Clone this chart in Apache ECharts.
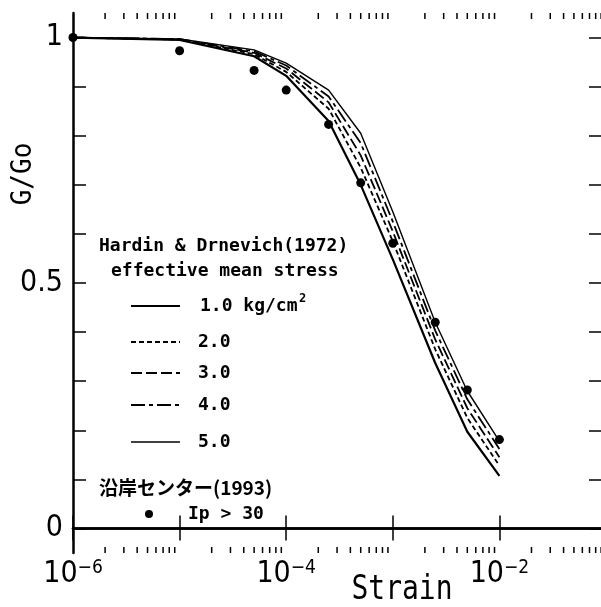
<!DOCTYPE html>
<html><head><meta charset="utf-8">
<script src="https://cdn.jsdelivr.net/npm/echarts@6/dist/echarts.min.js"></script>
<style>html,body{margin:0;padding:0;background:#fff}#c{width:601px;height:607px}</style>
</head><body><div id="c"></div>
<script>
// Hardin & Drnevich (1972) curves: strain vs G/Go for each effective mean stress
const strain = [1e-6, 1e-5, 5e-5, 1e-4, 2.5e-4, 5e-4, 1e-3, 2.5e-3, 5e-3, 1e-2];
const g10 = [1.0, 0.995, 0.962, 0.922, 0.830, 0.700, 0.548, 0.337, 0.197, 0.107];
const g20 = [1.0, 0.996, 0.966, 0.930, 0.855, 0.735, 0.585, 0.365, 0.225, 0.128];
const g30 = [1.0, 0.996, 0.969, 0.937, 0.868, 0.760, 0.605, 0.385, 0.245, 0.145];
const g40 = [1.0, 0.997, 0.972, 0.943, 0.880, 0.785, 0.625, 0.403, 0.263, 0.162];
const g50 = [1.0, 0.997, 0.975, 0.948, 0.893, 0.805, 0.645, 0.420, 0.280, 0.178];
// 沿岸センター(1993) Ip > 30 observations
const obsStrain = [1e-6, 1e-5, 5e-5, 1e-4, 2.5e-4, 5e-4, 1e-3, 2.5e-3, 5e-3, 1e-2];
const obsG = [1.0, 0.973, 0.933, 0.893, 0.823, 0.704, 0.581, 0.420, 0.282, 0.181];
// axis ticks / labels
const yTicks = [0, 0.1, 0.2, 0.3, 0.4, 0.5, 0.6, 0.7, 0.8, 0.9, 1.0];
const yLabelValues = [0, 0.5, 1];
const yLabelText = {0: '0', 0.5: '0.5', 1: '1'};
const xShownExponents = [-6, -4, -2];
const minorDecades = [1e-6, 1e-5, 1e-4, 1e-3, 1e-2];
const minorMults = [2, 3, 4, 5, 6, 7, 8, 9];
const legendLabels = ['1.0 kg/cm', '2.0', '3.0', '4.0', '5.0'];

const X_MIN = 1e-6, X_MAX = 1e-1, Y_MIN = -0.05, Y_MAX = 1.05;
const minorTicks = [];
minorDecades.forEach(d => minorMults.forEach(m => minorTicks.push([d * m, 0])));

const pair = (xs, ys) => xs.map((x, i) => [x, ys[i]]);
const dashes = [null, [5, 3], [11, 4], [14, 4, 4, 4], null];
const widths = [2.2, 1.8, 1.8, 1.8, 1.4];
const curves = [g10, g20, g30, g40, g50];

const chart = echarts.init(document.getElementById('c'), null, {renderer: 'canvas'});
const axisCommon = {
  type: 'log', logBase: 10, min: X_MIN, max: X_MAX, splitNumber: 5,
  axisLine: {lineStyle: {color: '#000', width: 2.5}},
  splitLine: {show: false}
};
const condensed = '"DejaVu Sans Condensed","DejaVu Sans",sans-serif';
const mono = '"DejaVu Sans Mono","Liberation Mono",monospace';

const series = curves.map((c, i) => ({
  type: 'line', xAxisIndex: 0, yAxisIndex: 0, data: pair(strain, c),
  symbol: 'none', silent: true, clip: false,
  lineStyle: {color: '#000', width: widths[i], type: dashes[i] || 'solid'}
}));
series.push({
  type: 'scatter', xAxisIndex: 0, yAxisIndex: 0, data: pair(obsStrain, obsG),
  symbol: 'circle', symbolSize: 9, itemStyle: {color: '#000', opacity: 1}, clip: false, z: 5
});
series.push({
  type: 'custom', xAxisIndex: 0, yAxisIndex: 0, data: minorTicks, clip: false, silent: true,
  renderItem: (params, api) => {
    const v = api.value(0);
    const t = api.coord([v, Y_MAX]);
    const b = api.coord([v, Y_MIN]);
    return {type: 'group', children: [
      {type: 'line', shape: {x1: t[0], y1: t[1], x2: t[0], y2: t[1] + 6}, style: {stroke: '#000', lineWidth: 1.5}},
      {type: 'line', shape: {x1: b[0], y1: b[1], x2: b[0], y2: b[1] - 6}, style: {stroke: '#000', lineWidth: 1.5}}
    ]};
  }
});

// legend-like annotation (graphic)
const legendY = [306, 342, 373, 405, 442];
const graphic = [
  {type: 'text', style: {x: 99, y: 246, text: 'Hardin & Drnevich(1972)', font: 'bold 18px ' + mono, fill: '#000', verticalAlign: 'middle'}},
  {type: 'text', style: {x: 111, y: 271, text: 'effective mean stress', font: 'bold 18px ' + mono, fill: '#000', verticalAlign: 'middle'}},
  {type: 'text', style: {x: 299, y: 299, text: '2', font: 'bold 12px ' + mono, fill: '#000', verticalAlign: 'middle'}},
  {type: 'text', style: {x: 99, y: 488, text: '沿岸センター(1993)', font: 'bold 19px "Noto Sans CJK JP"', fill: '#000', verticalAlign: 'middle'}},
  {type: 'circle', shape: {cx: 149, cy: 514, r: 4}, style: {fill: '#000'}},
  {type: 'text', style: {x: 188, y: 514, text: 'Ip > 30', font: 'bold 18px ' + mono, fill: '#000', verticalAlign: 'middle'}},
  {type: 'text', x: 402, y: 590, scaleY: 1.2, style: {x: 0, y: 0, text: 'Strain', font: '28px ' + mono, fill: '#000', align: 'center', verticalAlign: 'middle'}},
  {type: 'text', x: 24, y: 174, rotation: Math.PI / 2, scaleY: 1.1, style: {x: 0, y: 0, text: 'G/Go', font: '26px ' + mono, fill: '#000', align: 'center', verticalAlign: 'middle'}}
];
legendLabels.forEach((lab, i) => {
  graphic.push({type: 'line', shape: {x1: 131, y1: legendY[i], x2: 180, y2: legendY[i]},
    style: {stroke: '#000', lineWidth: widths[i], lineDash: dashes[i] || null}});
  graphic.push({type: 'text', style: {x: i === 0 ? 200 : 198, y: legendY[i], text: lab, font: 'bold 18px ' + mono, fill: '#000', verticalAlign: 'middle'}});
});

chart.setOption({
  animation: false,
  backgroundColor: '#fff',
  grid: {left: 73, width: 533, top: 13, bottom: 54, containLabel: false, outerBoundsMode: 'none'},
  xAxis: [
    Object.assign({}, axisCommon, {
      position: 'bottom',
      axisTick: {inside: true, length: 13, lineStyle: {color: '#000', width: 1.5}},
      axisLabel: {
        margin: 6, color: '#000', showMinLabel: true,
        formatter: v => {
          const e = Math.round(Math.log10(v));
          if (xShownExponents.indexOf(e) < 0) return '';
          return '{b|10}{s|\u2212' + Math.abs(e) + '}';
        },
        rich: {
          b: {fontSize: 30, fontFamily: condensed, color: '#000', lineHeight: 30},
          s: {fontSize: 19, fontFamily: condensed, color: '#000', lineHeight: 19, verticalAlign: 'top'}
        }
      }
    }),
    Object.assign({}, axisCommon, {
      position: 'top',
      axisTick: {inside: true, length: 12, lineStyle: {color: '#000', width: 1.5}},
      axisLabel: {show: false}
    })
  ],
  yAxis: [
    {type: 'value', min: Y_MIN, max: Y_MAX, position: 'left',
      axisLine: {lineStyle: {color: '#000', width: 2.5}},
      splitLine: {show: false},
      axisTick: {inside: true, length: 13, customValues: yTicks, lineStyle: {color: '#000', width: 1.5}},
      axisLabel: {customValues: yLabelValues, margin: 10, color: '#000', fontSize: 30, fontFamily: condensed,
        formatter: v => yLabelText[Math.round(v * 10) / 10] !== undefined ? yLabelText[Math.round(v * 10) / 10] : ''}},
    {type: 'value', min: Y_MIN, max: Y_MAX, position: 'right',
      axisLine: {lineStyle: {color: '#000', width: 2.5}},
      splitLine: {show: false},
      axisTick: {inside: true, length: 17, customValues: yTicks, lineStyle: {color: '#000', width: 1.5}},
      axisLabel: {show: false}}
  ],
  series: series,
  graphic: graphic
});
</script>
</body></html>
